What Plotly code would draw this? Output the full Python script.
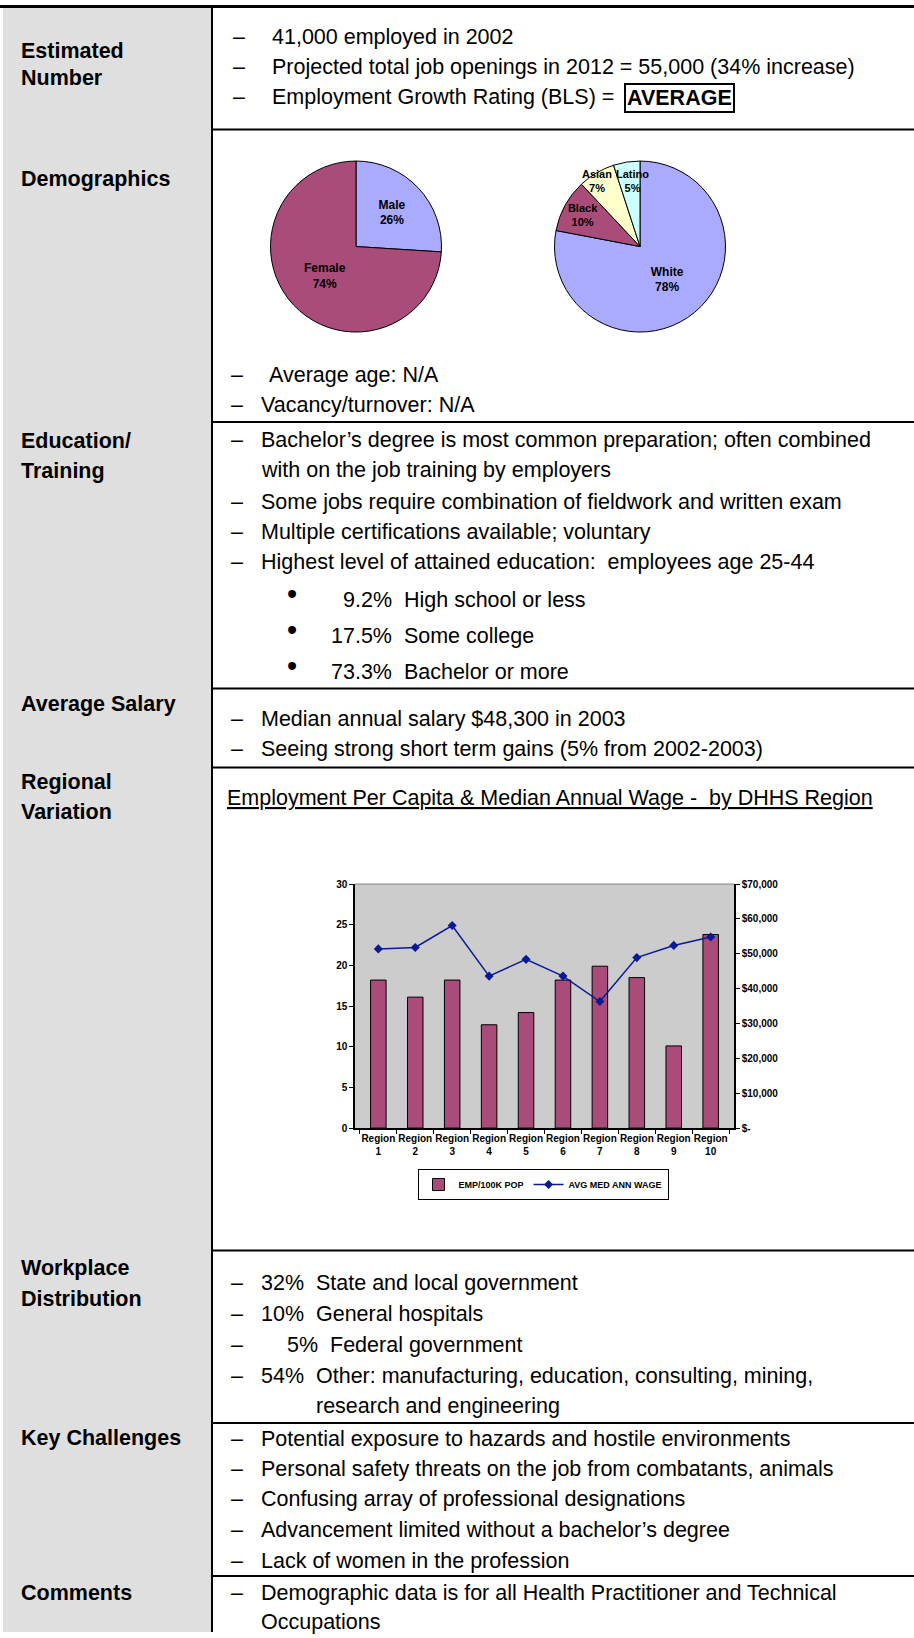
import plotly.graph_objects as go

W, H = 914, 1638

# ---------------- data ----------------
regions = [f"Region<br>{i}" for i in range(1, 11)]
emp_per_100k = [18.2, 16.1, 18.2, 12.7, 14.2, 18.2, 19.9, 18.5, 10.1, 23.8]
med_wage = [51400, 51800, 58100, 43600, 48400, 43600, 36300, 48900, 52400, 54800]
wage_ticks = [0, 10000, 20000, 30000, 40000, 50000, 60000, 70000]
wage_tick_text = ["$-", "$10,000", "$20,000", "$30,000", "$40,000", "$50,000", "$60,000", "$70,000"]
emp_ticks = [0, 5, 10, 15, 20, 25, 30]

gender_labels = ["Male", "Female"]
gender_pct = [26, 74]
eth_labels = ["White", "Black", "Asian", "Latino"]
eth_pct = [78, 10, 7, 5]

# ---------------- styles ----------------
BODY = "Liberation Sans, Arial, sans-serif"
CHART = "Liberation Sans, Arial, sans-serif"
FS = 21.5
MAGENTA = "#A94C79"
LAV = "#AAAAFF"
NAVY = "#0A1A96"
GRAY = "#DFDFDF"


def fy(y):
    # small vertical calibration
    return y - 5 + 0.0068 * y


def X(p):
    return p / W


def Y(p):
    return 1 - p / H


fig = go.Figure()

# ---------------- chart ----------------
fig.add_trace(go.Bar(
    x=regions, y=emp_per_100k, name="EMP/100K POP",
    marker=dict(color=MAGENTA, line=dict(color="black", width=1)),
    width=0.42, xaxis="x", yaxis="y",
))
fig.add_trace(go.Scatter(
    x=regions, y=med_wage, name="AVG MED ANN WAGE", mode="lines+markers",
    line=dict(color=NAVY, width=1.5),
    marker=dict(symbol="diamond", size=7, color=NAVY),
    xaxis="x", yaxis="y2",
))

# ---------------- pies ----------------
PIE_TOP, PIE_BOT = fy(161), fy(332)
fig.add_trace(go.Pie(
    labels=gender_labels, values=gender_pct, sort=False, direction="clockwise",
    rotation=0, marker=dict(colors=[LAV, MAGENTA], line=dict(color="black", width=1)),
    texttemplate="<b>%{label}<br>%{value}%</b>", textposition="inside",
    insidetextorientation="horizontal",
    textfont=dict(family=CHART, size=12, color="black"),
    domain=dict(x=[X(270), X(442)], y=[Y(PIE_BOT), Y(PIE_TOP)]),
    showlegend=False, hoverinfo="label+percent",
))
eth_text = ["<b>%s<br>%d%%</b>" % (l, v) if i < 2 else "" for i, (l, v) in enumerate(zip(eth_labels, eth_pct))]
fig.add_trace(go.Pie(
    labels=eth_labels, values=eth_pct, sort=False, direction="clockwise",
    rotation=0,
    marker=dict(colors=[LAV, MAGENTA, "#FFFFCC", "#CCFFFF"], line=dict(color="black", width=1)),
    text=eth_text, texttemplate="%{text}", textposition="inside",
    insidetextorientation="horizontal",
    textfont=dict(family=CHART, size=12, color="black"),
    domain=dict(x=[X(554), X(726)], y=[Y(PIE_BOT), Y(PIE_TOP)]),
    showlegend=False, hoverinfo="label+percent",
))

# ---------------- table shapes ----------------
VX = 212
shapes = []
shapes.append(dict(type="rect", xref="paper", yref="paper", x0=X(3), x1=X(VX - 1), y0=0, y1=Y(3),
                   fillcolor=GRAY, line=dict(width=0), layer="below"))
shapes.append(dict(type="line", xref="paper", yref="paper", x0=X(VX), x1=X(VX), y0=0, y1=1,
                   line=dict(color="black", width=2)))
shapes.append(dict(type="line", xref="paper", yref="paper", x0=0, x1=1, y0=Y(1.5), y1=Y(1.5),
                   line=dict(color="black", width=3)))
for yy in [129.5, 422, 688.5, 767.5, 1250.5, 1423, 1576]:
    shapes.append(dict(type="line", xref="paper", yref="paper", x0=X(VX), x1=1, y0=Y(fy(yy)), y1=Y(fy(yy)),
                       line=dict(color="black", width=2)))
# plot area top border
shapes.append(dict(type="line", xref="x domain", yref="y domain", x0=0, x1=1, y0=1, y1=1,
                   line=dict(color="#808080", width=1)))

# ---------------- text ----------------
ann = []


def txt(x, y, s, bold=False, size=FS, **kw):
    d = dict(xref="paper", yref="paper", x=X(x), y=Y(fy(y)), xanchor="left", yanchor="middle",
             text=("<b>%s</b>" % s) if bold else s, showarrow=False,
             font=dict(family=BODY, size=size, color="black"))
    d.update(kw)
    ann.append(d)


# left column labels
for s, y in [("Estimated", 51), ("Number", 78), ("Demographics", 179),
             ("Education/", 441), ("Training", 471), ("Average Salary", 704),
             ("Regional", 782), ("Variation", 812), ("Workplace", 1268),
             ("Distribution", 1299), ("Key Challenges", 1438), ("Comments", 1593)]:
    txt(19, y, s, bold=True)

DASH1, TXT1 = 231, 269.5
DASH, TX = 229, 259

# Estimated number
for s, y in [("41,000 employed in 2002", 36.5),
             ("Projected total job openings in 2012 = 55,000 (34% increase)", 67),
             ("Employment Growth Rating (BLS) = ", 97)]:
    txt(DASH1, y, "–")
    txt(TXT1, y, s)
ann.append(dict(xref="paper", yref="paper", x=X(624), y=Y(fy(97.5)), xanchor="left", yanchor="middle",
                text="<b>AVERAGE</b>", showarrow=False, bordercolor="black", borderwidth=2, borderpad=1,
                font=dict(family=BODY, size=FS, color="black")))

# small-slice pie labels (Asian, Latino)
for lbl, pct, x in zip(eth_labels[2:], eth_pct[2:], [597, 632]):
    ann.append(dict(xref="paper", yref="paper", x=X(x), y=Y(fy(181)), xanchor="center", yanchor="middle",
                    text="<b>%s<br>%d%%</b>" % (lbl, pct), showarrow=False,
                    font=dict(family=CHART, size=11, color="black")))

# Demographics
txt(DASH, 375, "–")
txt(266.5, 375, "Average age: N/A")
txt(DASH, 405, "–")
txt(TX, 405, "Vacancy/turnover: N/A")

# Education
for s, y, dash in [("Bachelor’s degree is most common preparation; often combined", 440, True),
                   ("with on the job training by employers", 470, False),
                   ("Some jobs require combination of fieldwork and written exam", 501.5, True),
                   ("Multiple certifications available; voluntary", 532, True),
                   ("Highest level of attained education:\u00a0 employees age 25-44", 562, True)]:
    if dash:
        txt(DASH, y, "–")
    txt(TX, y, s)
for s, x, y in [("9.2%\u00a0 High school or less", 340.5, 600),
                ("17.5%\u00a0 Some college", 329, 636),
                ("73.3%\u00a0 Bachelor or more", 329, 672)]:
    txt(285, y - 6, "•", size=29)
    txt(x, y, s)

# Salary
for s, y in [("Median annual salary $48,300 in 2003", 719),
             ("Seeing strong short term gains (5% from 2002-2003)", 749)]:
    txt(DASH, y, "–")
    txt(TX, y, s)

# Regional title
txt(225, 798, "<u>Employment Per Capita & Median Annual Wage -\u00a0 by DHHS Region</u>")

# Workplace
for s, x, y, dash in [("32%\u00a0 State and local government", TX, 1283, True),
                      ("10%\u00a0 General hospitals", TX, 1314, True),
                      ("5%\u00a0 Federal government", 285, 1344.5, True),
                      ("54%\u00a0 Other: manufacturing, education, consulting, mining,", TX, 1375.5, True),
                      ("research and engineering", 313.5, 1406, False)]:
    if dash:
        txt(DASH, y, "–")
    txt(x, y, s)

# Key challenges
for s, y in [("Potential exposure to hazards and hostile environments", 1438.5),
             ("Personal safety threats on the job from combatants, animals", 1469),
             ("Confusing array of professional designations", 1499),
             ("Advancement limited without a bachelor’s degree", 1529.5),
             ("Lack of women in the profession", 1560.5)]:
    txt(DASH, y, "–")
    txt(TX, y, s)

# Comments
txt(DASH, 1593, "–")
txt(TX, 1593, "Demographic data is for all Health Practitioner and Technical")
txt(TX, 1622, "Occupations")

# ---------------- layout ----------------
tickfont = dict(family=CHART, size=10, color="black", weight="bold")
fig.update_layout(
    width=W, height=H, margin=dict(l=0, r=0, t=0, b=0), autosize=False,
    paper_bgcolor="white", plot_bgcolor="#CCCCCC",
    shapes=shapes, annotations=ann,
    xaxis=dict(domain=[X(355), X(734)], anchor="y", type="category", tickangle=0,
               showline=True, linecolor="black", linewidth=1.5, mirror=False,
               ticks="outside", tickson="boundaries", ticklen=4, tickcolor="black",
               showgrid=False, zeroline=False, tickfont=tickfont),
    yaxis=dict(domain=[Y(fy(1128)), Y(fy(884))], anchor="x", range=[0, 30], tickvals=emp_ticks,
               showline=True, linecolor="black", linewidth=1.5, ticks="outside", ticklen=4,
               tickcolor="black", showgrid=False, zeroline=False, tickfont=tickfont),
    yaxis2=dict(overlaying="y", side="right", anchor="x", range=[0, 70000],
                tickvals=wage_ticks, ticktext=wage_tick_text,
                showline=True, linecolor="black", linewidth=1.5, ticks="outside", ticklen=4,
                tickcolor="black", showgrid=False, zeroline=False, tickfont=tickfont),
    legend=dict(orientation="h", x=X(543), y=Y(1187.5), xanchor="center", yanchor="middle",
                bordercolor="black", borderwidth=1, bgcolor="white",
                font=dict(family=CHART, size=9, color="black", weight="bold"),
                itemwidth=30, tracegroupgap=0, itemclick=False),
    bargap=0.58, showlegend=True,
)

fig.write_html("out.html")
